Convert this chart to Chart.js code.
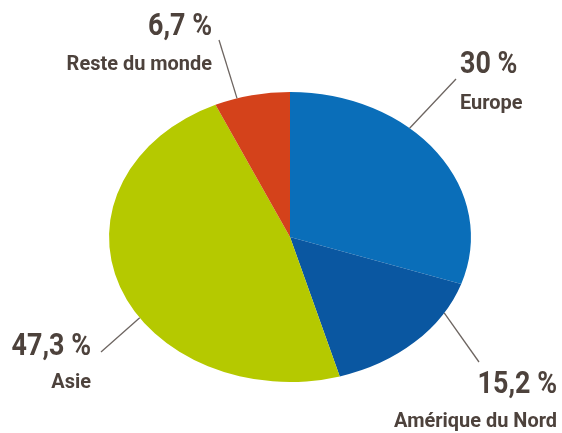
<!DOCTYPE html>
<html><head><meta charset="utf-8">
<script src="https://cdn.jsdelivr.net/npm/chart.js@4/dist/chart.umd.min.js"></script>
<style>html,body{margin:0;padding:0;background:#fff;}#wrap{width:562px;height:433px;position:relative;}</style>
</head><body><div id="wrap"><canvas id="c" width="562" height="433"></canvas></div>
<script>
const categories = ["Europe", "Amérique du Nord", "Asie", "Reste du monde"];
const values = [30, 15.2, 47.3, 6.7];
const pctLabels = ["30 %", "15,2 %", "47,3 %", "6,7 %"];
const colors = ["#0a6eb9", "#0a57a1", "#b5c900", "#d4421b"];

const TEXT = "#4d423c";
const SX = 1.248; // horizontal stretch to make the pie an ellipse
const PCT_FONT = "bold 32px Roboto, 'Liberation Sans', sans-serif";
const CAT_FONT = "bold 21px Roboto, 'Liberation Sans', sans-serif";
const PCT_CONDENSE = 0.84;
const CAT_CONDENSE = 0.95;

// label layout: fraction along arc for anchor, line end, text anchor & alignment
const labelLayout = [
  {t:0.38, lx:456, ly:79,  tx:460, ty1:73,  ty2:109, align:"left"},
  {t:0.23, lx:479, ly:362, tx:557, ty1:393, ty2:427, align:"right"},
  {t:0.42, lx:101, ly:352, tx:91,  ty1:355, ty2:388, align:"right"},
  {t:0.30, lx:219, ly:40,  tx:212, ty1:35,  ty2:70,  align:"right"}
];

function condensedText(ctx, txt, x, y, align, k) {
  ctx.save();
  ctx.translate(x, y);
  ctx.scale(k, 1);
  ctx.textAlign = align;
  ctx.fillText(txt, 0, 0);
  ctx.restore();
}

const ellipsePlugin = {
  id: "ellipse",
  beforeDatasetsDraw(chart) {
    const a = chart.getDatasetMeta(0).data[0];
    const ctx = chart.ctx;
    ctx.save();
    ctx.translate(a.x, a.y);
    ctx.scale(SX, 1);
    ctx.translate(-a.x, -a.y);
  },
  afterDatasetsDraw(chart) {
    chart.ctx.restore();
  },
  afterDraw(chart) {
    const ctx = chart.ctx;
    const meta = chart.getDatasetMeta(0);
    meta.data.forEach((arc, i) => {
      const L = labelLayout[i];
      const ang = arc.startAngle + (arc.endAngle - arc.startAngle) * L.t;
      const r = arc.outerRadius;
      const ax = arc.x + Math.cos(ang) * r * SX;
      const ay = arc.y + Math.sin(ang) * r;
      ctx.save();
      ctx.strokeStyle = "#6d6561";
      ctx.lineWidth = 1.3;
      ctx.beginPath();
      ctx.moveTo(ax, ay);
      ctx.lineTo(L.lx, L.ly);
      ctx.stroke();
      ctx.fillStyle = TEXT;
      ctx.textBaseline = "alphabetic";
      ctx.font = PCT_FONT;
      condensedText(ctx, pctLabels[i], L.tx, L.ty1, L.align, PCT_CONDENSE);
      ctx.font = CAT_FONT;
      condensedText(ctx, categories[i], L.tx, L.ty2, L.align, CAT_CONDENSE);
      ctx.restore();
    });
  }
};

new Chart(document.getElementById("c"), {
  type: "pie",
  data: {
    labels: categories,
    datasets: [{ data: values, backgroundColor: colors, borderWidth: 0 }]
  },
  options: {
    responsive: false,
    animation: false,
    layout: { padding: { left: 145, right: 127, top: 92, bottom: 51 } },
    plugins: { legend: { display: false }, tooltip: { enabled: false } }
  },
  plugins: [ellipsePlugin]
});
</script></body></html>
